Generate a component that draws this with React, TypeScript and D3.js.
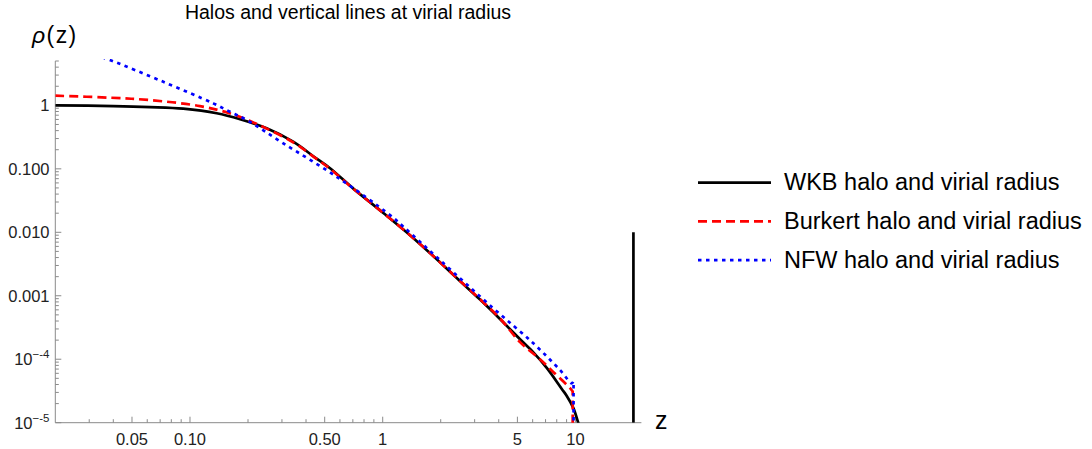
import React, { useEffect, useRef } from 'react';
import * as d3 from 'd3';

// WKB halo (solid black)
const wkbZ = [0.02, 0.04, 0.062, 0.0923, 0.1376, 0.182, 0.25, 0.343, 0.45, 0.533, 0.704, 1.0, 1.386, 1.76, 2.5, 3.2, 4.06, 5.37, 6.05, 7.1, 8.5, 9.02, 9.75, 10.3, 10.8];
const wkbRho = [1.0, 0.975, 0.94, 0.886, 0.75, 0.603, 0.435, 0.2675, 0.1475, 0.102, 0.0488, 0.0205, 0.009, 0.0047, 0.00174, 0.00087, 0.00043, 0.000183, 0.000128, 0.000073, 0.000034, 0.0000264, 0.0000171, 0.0000104, 0.0000065];

// Burkert halo (dashed red)
const burkertZ = [0.02, 0.0385, 0.062, 0.1127, 0.161, 0.205, 0.25, 0.343, 0.45, 0.533, 0.704, 1.0, 1.386, 1.76, 2.5, 3.2, 4.06, 5.16, 6.55, 7.67, 9.38, 9.68];
const burkertRho = [1.42, 1.32, 1.21, 0.975, 0.748, 0.566, 0.43, 0.262, 0.146, 0.1, 0.0485, 0.0205, 0.009, 0.0047, 0.00175, 0.00088, 0.00044, 0.000186, 0.0001, 0.000063, 0.000035, 0.000031];

// NFW halo (dotted blue)
const nfwZ = [0.032, 0.0393, 0.0727, 0.132, 0.161, 0.197, 0.305, 0.577, 1.09, 1.28, 1.98, 3.75, 6.05, 8.32, 9.57, 9.78];
const nfwRho = [6.3, 5.04, 2.35, 1.075, 0.793, 0.587, 0.252, 0.075, 0.0187, 0.01224, 0.00366, 0.000634, 0.000178, 0.0000676, 0.0000418, 0.000045];

// virial radii
const wkbVirial = 20;
const wkbVirialTop = 0.01;
const burkertVirial = 9.68;
const nfwVirial = 9.78;

const xMajor = [0.05, 0.1, 0.5, 1, 5, 10];
const xMajorLabels = ['0.05', '0.10', '0.50', '1', '5', '10'];
const xMinor = [0.03, 0.04, 0.06, 0.07, 0.08, 0.09, 0.2, 0.3, 0.4, 0.6, 0.7, 0.8, 0.9, 2, 3, 4, 6, 7, 8, 9, 20];

const yMajor = [1e-5, 1e-4, 1e-3, 1e-2, 1e-1, 1];
const yMajorLabels = ['10|-5', '10|-4', '0.001', '0.010', '0.100', '1'];
const yMinorMultipliers = [2, 3, 4, 5, 6, 7, 8, 9];
const yTopMinor = [2, 3, 4, 5];

const legendNames = ['WKB halo and virial radius', 'Burkert halo and virial radius', 'NFW halo and virial radius'];
const colors = ['#000000', '#ff0000', '#0000ff'];
const dashes = ['none', '9,5', '3.5,4.5'];

const W = 1092;
const H = 449;
const FONT = '"Liberation Sans", Arial, sans-serif';

const App: React.FC = () => {
  const svgRef = useRef<SVGSVGElement>(null);

  useEffect(() => {
    document.body.style.margin = '0';
    if (!svgRef.current) return;
    const svg = d3.select(svgRef.current);
    svg.selectAll('*').remove();

    const x = d3.scaleLog().domain([0.02, 22]).range([55.3, 641.4]);
    const y = d3.scaleLog().domain([1e-5, 5]).range([422.7, 61]);
    const [x0, x1] = x.range();
    const [y0, y1] = y.range();

    svg.append('defs').append('clipPath').attr('id', 'plotClip')
      .append('rect').attr('x', x0).attr('y', y1 - 2).attr('width', x1 - x0).attr('height', y0 - y1 + 2);

    const axisColor = '#8a8a8a';
    const labelColor = '#222';

    // axes
    svg.append('line').attr('x1', x0).attr('x2', x1).attr('y1', y0).attr('y2', y0)
      .attr('stroke', axisColor).attr('stroke-width', 1);
    svg.append('line').attr('x1', x0).attr('x2', x0).attr('y1', y0).attr('y2', y1)
      .attr('stroke', axisColor).attr('stroke-width', 1);

    // x ticks
    svg.selectAll('.xmaj').data(xMajor).enter().append('line')
      .attr('x1', d => x(d)).attr('x2', d => x(d)).attr('y1', y0).attr('y2', y0 - 6)
      .attr('stroke', axisColor);
    svg.selectAll('.xmin').data(xMinor).enter().append('line')
      .attr('x1', d => x(d)).attr('x2', d => x(d)).attr('y1', y0).attr('y2', y0 - 3.5)
      .attr('stroke', axisColor);
    svg.selectAll('.xlab').data(xMajor).enter().append('text')
      .attr('x', d => x(d)).attr('y', 444.5)
      .attr('text-anchor', 'middle').attr('font-family', FONT).attr('font-size', 16.5)
      .attr('fill', labelColor).text((_, i) => xMajorLabels[i]);

    // y ticks
    const yMinor: number[] = [];
    yMajor.slice(0, -1).forEach(base => yMinorMultipliers.forEach(m => yMinor.push(base * m)));
    yTopMinor.forEach(m => yMinor.push(m));
    svg.selectAll('.ymaj').data(yMajor).enter().append('line')
      .attr('x1', x0).attr('x2', x0 + 6).attr('y1', d => y(d)).attr('y2', d => y(d))
      .attr('stroke', axisColor);
    svg.selectAll('.ymin').data(yMinor).enter().append('line')
      .attr('x1', x0).attr('x2', x0 + 3.5).attr('y1', d => y(d)).attr('y2', d => y(d))
      .attr('stroke', axisColor);

    yMajor.forEach((v, i) => {
      const lab = yMajorLabels[i];
      const t = svg.append('text')
        .attr('x', 49.5).attr('y', y(v) + 6)
        .attr('text-anchor', 'end').attr('font-family', FONT).attr('font-size', 16.5)
        .attr('fill', labelColor);
      if (lab.includes('|')) {
        const [b, e] = lab.split('|');
        t.append('tspan').text(b);
        t.append('tspan').attr('dy', -7).attr('font-size', 11.5).text('\u2212' + e);
      } else {
        t.text(lab);
      }
    });

    // axis labels
    const rl = svg.append('text').attr('x', 32).attr('y', 42.5)
      .attr('font-family', FONT).attr('font-size', 23).attr('letter-spacing', 1.4).attr('fill', '#000');
    rl.append('tspan').attr('font-style', 'italic').text('\u03C1');
    rl.append('tspan').text('(z)');
    svg.append('text').attr('x', 655).attr('y', 428.5)
      .attr('font-family', FONT).attr('font-size', 25).attr('fill', '#000').text('z');

    // title
    svg.append('text').attr('x', 348).attr('y', 19)
      .attr('text-anchor', 'middle').attr('font-family', FONT).attr('font-size', 19.5)
      .attr('fill', '#000').text('Halos and vertical lines at virial radius');

    // curves
    const plot = svg.append('g').attr('clip-path', 'url(#plotClip)');
    const line = d3.line<[number, number]>()
      .x(d => x(d[0])).y(d => y(d[1]))
      .curve(d3.curveCatmullRom.alpha(0.5));

    const series = [
      { z: wkbZ, rho: wkbRho, drop: null as number | null },
      { z: burkertZ, rho: burkertRho, drop: burkertVirial },
      { z: nfwZ, rho: nfwRho, drop: nfwVirial },
    ];

    series.forEach((s, i) => {
      const pts = s.z.map((zz, j) => [zz, s.rho[j]] as [number, number]);
      let d = line(pts) || '';
      if (s.drop !== null) d += `L${x(s.drop)},${y(1e-6)}`;
      plot.append('path').attr('d', d)
        .attr('fill', 'none').attr('stroke', colors[i]).attr('stroke-width', 2.7)
        .attr('stroke-dasharray', dashes[i]);
    });

    // WKB virial radius vertical line
    plot.append('line')
      .attr('x1', x(wkbVirial)).attr('x2', x(wkbVirial))
      .attr('y1', y(1e-5)).attr('y2', y(wkbVirialTop))
      .attr('stroke', '#000').attr('stroke-width', 2.7);

    // legend
    const lg = svg.append('g');
    legendNames.forEach((name, i) => {
      const ly = 182.7 + i * 38.7;
      lg.append('line').attr('x1', 698).attr('x2', 771).attr('y1', ly).attr('y2', ly)
        .attr('stroke', colors[i]).attr('stroke-width', 2.7).attr('stroke-dasharray', dashes[i]);
      lg.append('text').attr('x', 784).attr('y', ly + 7.5)
        .attr('font-family', FONT).attr('font-size', 23.5).attr('fill', '#000').text(name);
    });
  }, []);

  return <svg ref={svgRef} width={W} height={H} style={{ display: 'block', background: '#fff' }} />;
};

export default App;
